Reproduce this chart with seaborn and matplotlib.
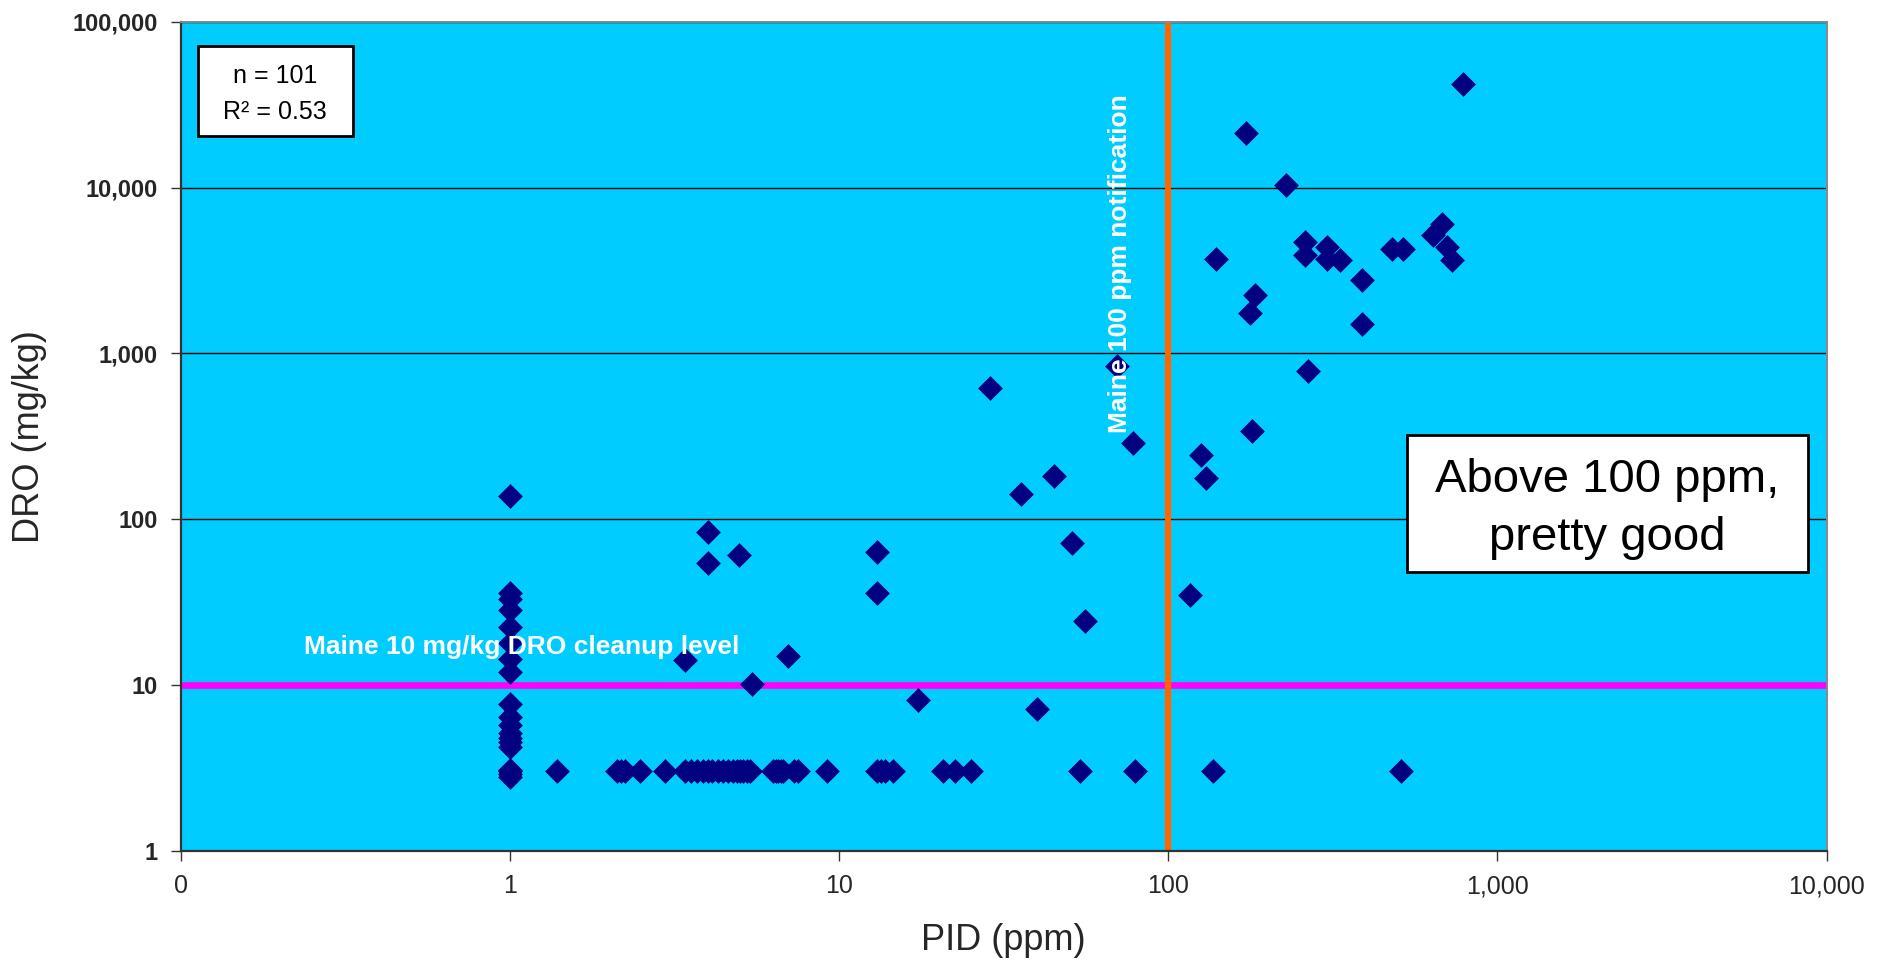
import matplotlib
matplotlib.use("Agg")
import matplotlib.pyplot as plt
import seaborn as sns
import pandas as pd
from matplotlib.patches import Rectangle
from matplotlib.ticker import FixedLocator, FixedFormatter, NullLocator

# ---------------- data ----------------
# PID = 1 ppm column
pid_col1 = [1, 1, 1, 1, 1, 1, 1, 1, 1, 1, 1, 1, 1, 1, 1, 1, 1, 1, 1, 1]
dro_col1 = [138, 35.6, 33, 28.2, 22.4, 17.8, 14.4, 12.0, 7.7, 6.4, 5.7, 5.1,
            4.8, 4.5, 4.2, 3.06, 3.0, 3.0, 2.9, 2.79]

# DRO non-detect row (~3 mg/kg)
pid_row3 = [1.39, 2.11, 2.18, 2.24, 2.49, 2.96, 3.40, 3.55, 3.69, 3.85, 4.00,
            4.10, 4.29, 4.45, 4.60, 4.75, 4.88, 5.00, 5.11, 5.25, 5.36, 6.31,
            6.42, 6.53, 6.65, 6.76, 7.30, 7.51, 9.2, 13.0, 13.4, 13.8, 14.6,
            20.7, 22.5, 25.1, 54.1, 79.1, 137, 511]
dro_row3 = [3.0] * len(pid_row3)

# remaining detections below / around 100 ppm
pid_mid = [4.0, 4.0, 4.97, 3.40, 7.0, 5.42, 13.0, 13.0, 17.3, 40.0, 55.9, 50.9,
           35.6, 45.1, 28.8, 70.0, 78.0, 116, 126, 130, 180]
dro_mid = [83.7, 54.7, 60.6, 14.1, 15.0, 10.1, 63.4, 36.0, 8.1, 7.14, 24.3, 71.3,
           141, 182, 618, 836, 286, 34.7, 243, 176, 338]

# high PID / high DRO cluster
pid_high = [172, 228, 787, 681, 638, 701, 726, 260, 260, 303, 303, 333, 477,
            518, 140, 387, 184, 177, 387, 265]
dro_high = [21300, 10400, 42000, 6070, 5150, 4380, 3680, 4700, 3910, 4380,
            3730, 3680, 4290, 4290, 3700, 2760, 2240, 1760, 1510, 780]

x_ticks = [0.1, 1, 10, 100, 1000, 10000]
x_tick_labels = ["0", "1", "10", "100", "1,000", "10,000"]
y_ticks = [1, 10, 100, 1000, 10000, 100000]
y_tick_labels = ["1", "10", "100", "1,000", "10,000", "100,000"]

cleanup_level = 10      # mg/kg DRO
notification_level = 100  # ppm PID

df = pd.DataFrame({
    "PID": pid_col1 + pid_row3 + pid_mid + pid_high,
    "DRO": dro_col1 + dro_row3 + dro_mid + dro_high,
})

# ---------------- figure ----------------
sns.set_style("white")
plt.rcParams["font.family"] = ["Liberation Sans", "DejaVu Sans"]

W, H = 1889, 965
fig = plt.figure(figsize=(W / 100, H / 100), dpi=100)
fig.patch.set_facecolor("white")
L, R, T, B = 181, 1826.5, 22, 850.5
ax = fig.add_axes([L / W, 1 - B / H, (R - L) / W, (B - T) / H])
ax.set_facecolor("#00CCFF")
ax.set_xscale("log")
ax.set_yscale("log")
ax.set_xlim(0.1, 10000)
ax.set_ylim(1, 100000)

ax.set_axisbelow(True)
ax.yaxis.grid(True, color="black", linewidth=1.0)
ax.xaxis.grid(False)

ax.axhline(cleanup_level, color="#FF00FF", linewidth=4.8, zorder=2)
ax.axvline(notification_level, color="#FF6600", linewidth=4.5, zorder=2)

sns.scatterplot(data=df, x="PID", y="DRO", marker="D", s=160, color="#000080",
                linewidth=0, ax=ax, zorder=3, legend=False)

# ticks
ax.xaxis.set_major_locator(FixedLocator(x_ticks))
ax.xaxis.set_major_formatter(FixedFormatter(x_tick_labels))
ax.xaxis.set_minor_locator(NullLocator())
ax.yaxis.set_major_locator(FixedLocator(y_ticks))
ax.yaxis.set_major_formatter(FixedFormatter(y_tick_labels))
ax.yaxis.set_minor_locator(NullLocator())
ax.tick_params(axis="x", which="major", direction="out", length=7, width=1,
               color="#333333", labelsize=18, pad=10, bottom=True)
ax.tick_params(axis="y", which="major", direction="out", length=7, width=1,
               color="#333333", labelsize=17, pad=10, left=True)
for lab in ax.get_yticklabels():
    lab.set_fontweight("bold")

for side in ["left", "bottom"]:
    ax.spines[side].set_color("#333333")
    ax.spines[side].set_linewidth(1.6)
for side in ["top", "right"]:
    ax.spines[side].set_color("#888888")
    ax.spines[side].set_linewidth(1.4)

ax.set_xlabel("PID (ppm)", fontsize=26)
ax.set_ylabel("DRO (mg/kg)", fontsize=26)
ax.xaxis.set_label_coords(0.5, (B - 941) / (B - T))
ax.xaxis.label.set_va("center")
ax.yaxis.set_label_coords((30 - L) / (R - L), 0.5)
ax.yaxis.label.set_va("center")


def fx(px):
    return (px - L) / (R - L)


def fy(py):
    return (B - py) / (B - T)


# reference-line labels
ax.text(fx(521.7), fy(654), "Maine 10 mg/kg DRO cleanup level", transform=ax.transAxes,
        ha="center", va="baseline", fontsize=19, fontweight="bold", color="white", zorder=5)
ax.text(fx(1120), fy(263.5), "Maine 100 ppm notification", transform=ax.transAxes,
        ha="center", va="center", rotation=90, fontsize=19, fontweight="bold",
        color="white", zorder=5)

# stats box
ax.add_patch(Rectangle((fx(197.7), fy(136)), fx(352.7) - fx(197.7), fy(46) - fy(136),
                       transform=ax.transAxes, facecolor="white", edgecolor="black",
                       linewidth=2, zorder=6))
ax.text(fx(275.2), fy(82.7), "n = 101", transform=ax.transAxes, ha="center",
        va="baseline", fontsize=18, color="black", zorder=7)
ax.text(fx(275.2), fy(118.7), "R² = 0.53", transform=ax.transAxes, ha="center",
        va="baseline", fontsize=18, color="black", zorder=7)

# comment box
ax.add_patch(Rectangle((fx(1406.7), fy(571.7)), fx(1807.7) - fx(1406.7), fy(435) - fy(571.7),
                       transform=ax.transAxes, facecolor="white", edgecolor="black",
                       linewidth=2, zorder=6))
ax.text(fx(1607.2), fy(491.7), "Above 100 ppm,", transform=ax.transAxes, ha="center",
        va="baseline", fontsize=34, color="black", zorder=7)
ax.text(fx(1607.2), fy(550), "pretty good", transform=ax.transAxes, ha="center",
        va="baseline", fontsize=34, color="black", zorder=7)

fig.savefig("out.png", dpi=100, facecolor="white")
